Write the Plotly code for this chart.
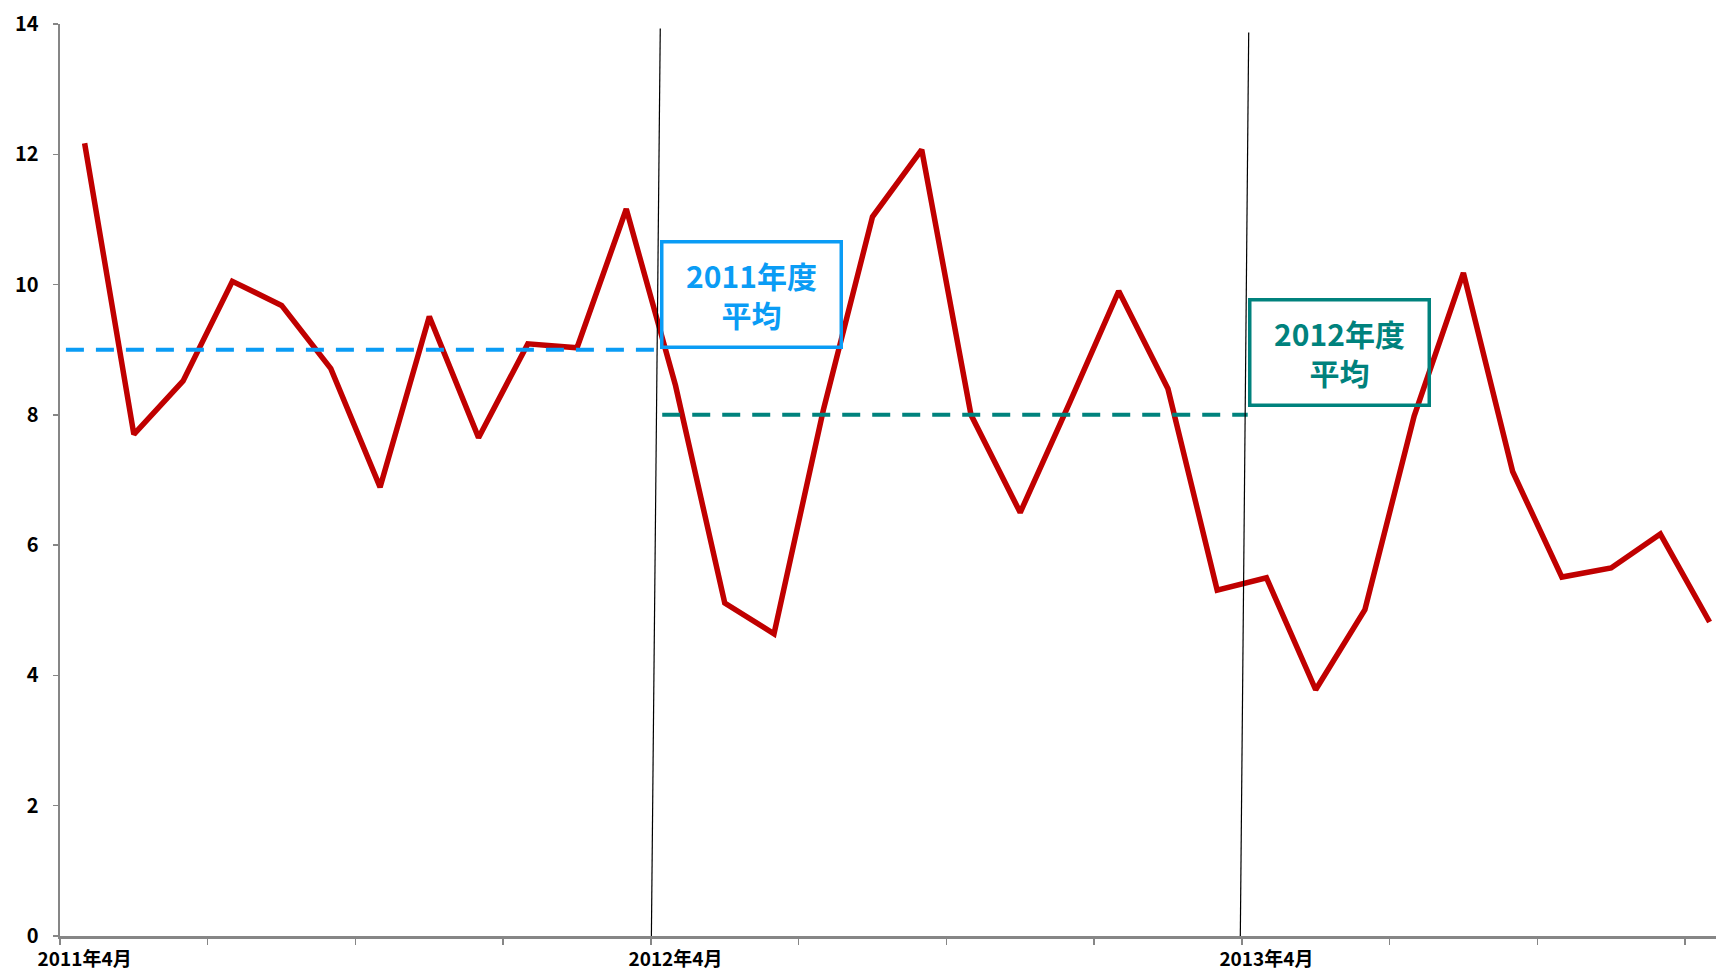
import plotly.graph_objects as go

months = []
for y in (2011, 2012, 2013, 2014):
    for m in range(1, 13):
        if (y == 2011 and m < 4) or (y == 2014 and m > 1):
            continue
        months.append(f"{y}年{m}月")

values = [12.17, 7.70, 8.52, 10.05, 9.68, 8.71, 6.89, 9.51, 7.65, 9.09, 9.03, 11.16,
          8.45, 5.11, 4.64, 8.07, 11.04, 12.07, 8.00, 6.50, 8.18, 9.90, 8.40, 5.31,
          5.50, 3.78, 5.01, 7.98, 10.18, 7.13, 5.51, 5.65, 6.17, 4.82]

avg_labels = ["2011年度<br>平均", "2012年度<br>平均"]
avg_values = [9.0, 8.0]
avg_colors = ["#0A9CF5", "#00827D"]

label_months = ["2011年4月", "2012年4月", "2013年4月"]
ytick_vals = [0, 2, 4, 6, 8, 10, 12, 14]

FONT = "Noto Sans CJK JP"
xs = list(range(len(months)))

fig = go.Figure()
fig.add_trace(go.Scatter(x=xs, y=values, mode="lines",
                         line=dict(color="#C00000", width=5.5),
                         showlegend=False, hoverinfo="skip"))

# fiscal year average dashed lines
seg = [(-0.38, 11.62), (11.73, 23.62)]
for (a, b), v, c in zip(seg, avg_values, avg_colors):
    fig.add_trace(go.Scatter(x=[a, b], y=[v, v], mode="lines",
                             line=dict(color=c, width=4, dash="18px,12px"),
                             showlegend=False, hoverinfo="skip"))

# thin separator lines (hand drawn, slightly slanted)
for x0, x1, ytop in [(11.51, 11.69, 13.93), (23.47, 23.64, 13.87)]:
    fig.add_shape(type="line", xref="x", yref="y", x0=x0, y0=0, x1=x1, y1=ytop,
                  line=dict(color="black", width=1.2), layer="above")

# boxes
box_pos = [(13.55, 9.84), (25.48, 8.95)]
for (bx, by), t, c in zip(box_pos, avg_labels, avg_colors):
    fig.add_annotation(x=bx, y=by, xref="x", yref="y", text=t, showarrow=False,
                       font=dict(family=FONT, size=30, color=c, weight="bold"),
                       bordercolor=c, borderwidth=3.5, borderpad=0,
                       width=176, height=102, align="center", valign="middle")

label_idx = [months.index(m) for m in label_months]
minor_vals = [i - 0.5 for i in range(0, len(months) + 3, 3)]

fig.update_xaxes(range=[-0.5, 33.13], tickmode="array", tickvals=label_idx,
                 ticktext=label_months, ticks="outside", ticklen=0,
                 tickfont=dict(family=FONT, size=19, color="black", weight="bold"),
                 showline=True, linecolor="#868686", linewidth=2.5,
                 showgrid=False, zeroline=False, ticklabelstandoff=5,
                 automargin=False,
                 minor=dict(tickmode="array", tickvals=minor_vals, ticks="outside",
                            ticklen=6, tickwidth=1.5, tickcolor="#868686", showgrid=False))
fig.update_yaxes(range=[0, 14], tickmode="array", tickvals=ytick_vals,
                 ticks="outside", ticklen=5, tickwidth=1.5, tickcolor="#868686",
                 tickfont=dict(family=FONT, size=20, color="black", weight="bold"),
                 showline=True, linecolor="#868686", linewidth=2.5,
                 showgrid=False, zeroline=False, ticklabelstandoff=10,
                 automargin=False)

fig.update_layout(width=1716, height=972, autosize=False,
                  margin=dict(l=60, r=0, t=24, b=36),
                  plot_bgcolor="white", paper_bgcolor="white",
                  font=dict(family=FONT), hovermode=False)

fig.write_html("out.html", config={"displayModeBar": False, "staticPlot": True},
               post_script="document.body.style.margin='0';document.body.style.overflow='hidden';")
